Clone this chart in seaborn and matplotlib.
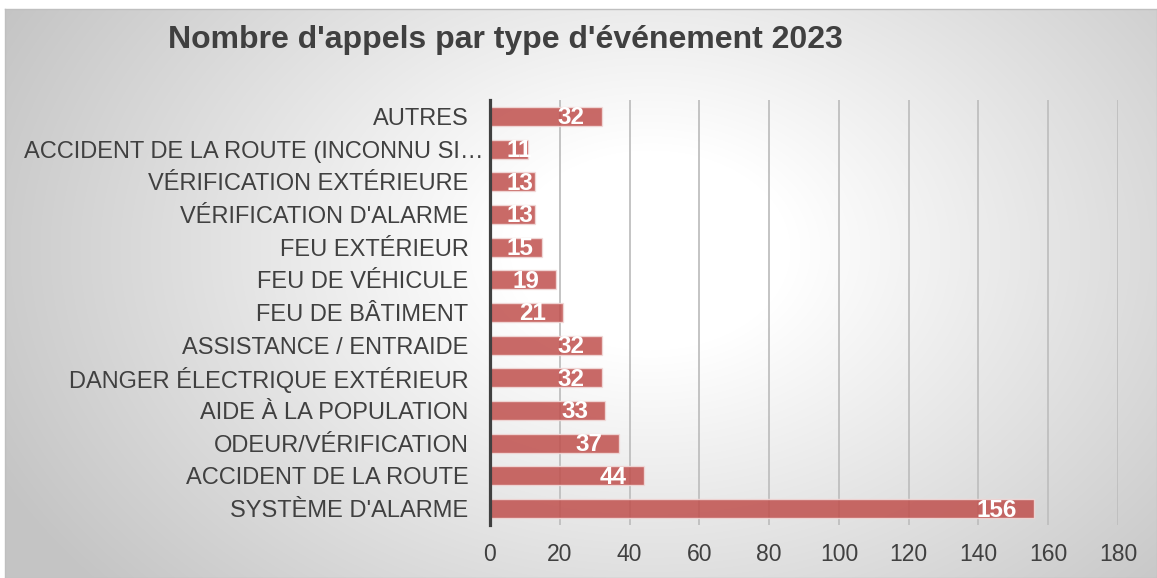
import numpy as np
import pandas as pd
import matplotlib
matplotlib.use("Agg")
import matplotlib.pyplot as plt
import matplotlib.transforms as mtransforms
import seaborn as sns

categories = [
    "AUTRES",
    "ACCIDENT DE LA ROUTE (INCONNU SI…",
    "VÉRIFICATION EXTÉRIEURE",
    "VÉRIFICATION D'ALARME",
    "FEU EXTÉRIEUR",
    "FEU DE VÉHICULE",
    "FEU DE BÂTIMENT",
    "ASSISTANCE / ENTRAIDE",
    "DANGER ÉLECTRIQUE EXTÉRIEUR",
    "AIDE À LA POPULATION",
    "ODEUR/VÉRIFICATION",
    "ACCIDENT DE LA ROUTE",
    "SYSTÈME D'ALARME",
]
values = [32, 11, 13, 13, 15, 19, 21, 32, 32, 33, 37, 44, 156]
x_ticks = [0, 20, 40, 60, 80, 100, 120, 140, 160, 180]
title = "Nombre d'appels par type d'événement 2023"

sns.set_theme(style="white")
plt.rcParams["font.family"] = ["Liberation Sans", "DejaVu Sans"]

W, H = 1157, 578
fig = plt.figure(figsize=(W / 100, H / 100), dpi=100)
fig.patch.set_facecolor("white")

# background radial gradient panel
bx0, by_top = 5, 9
bg = fig.add_axes([bx0 / W, 0, 1 - bx0 / W, (H - by_top) / H], zorder=-5)
xs = np.arange(bx0, W)
ys = np.arange(by_top, H)
XX, YY = np.meshgrid(xs, ys)
cx, cy = 650, 250
d = np.sqrt(((XX - cx) / 1.4) ** 2 + (YY - cy) ** 2)
lvl = 255 - 0.14 * np.clip(d - 100, 0, None)
lvl = np.clip(lvl, 196, 255) / 255.0
img = np.dstack([lvl, lvl, lvl])
bg.imshow(img, aspect="auto", interpolation="bilinear")
bg.set_xticks([])
bg.set_yticks([])
for s in bg.spines.values():
    s.set_color("#BFBFBF")
    s.set_linewidth(1.0)

# main axes
L, R, T, B = 490, 1118, 100, 525
ax = fig.add_axes([L / W, (H - B) / H, (R - L) / W, (B - T) / H])
ax.set_facecolor("none")

df = pd.DataFrame({"cat": categories, "val": values})
sns.barplot(data=df, x="val", y="cat", orient="h", ax=ax,
            color="#C0504D", alpha=0.85, width=0.58,
            edgecolor="#F2DCDB", linewidth=1.0, saturation=1, zorder=3)

ax.set_xlim(0, 180)
ax.set_ylim(len(categories) - 0.5, -0.5)
ax.set_xticks(x_ticks)
ax.set_xlabel("")
ax.set_ylabel("")
ax.grid(axis="x", color="#BFBFBF", linewidth=1.3, zorder=0)
ax.grid(axis="y", visible=False)
ax.set_axisbelow(True)
for side in ["top", "right", "bottom"]:
    ax.spines[side].set_visible(False)
ax.spines["left"].set_color("#404040")
ax.spines["left"].set_linewidth(2.3)
ax.spines["left"].set_zorder(5)
ax.tick_params(axis="y", length=0, pad=15.5, labelsize=17, labelcolor="#404040")
ax.tick_params(axis="x", length=0, pad=13, labelsize=16.5, labelcolor="#404040")

# truncated label sits a bit closer to the axis in the original
for lab in ax.get_yticklabels():
    if lab.get_text().endswith("…"):
        lab.set_transform(lab.get_transform() +
                          mtransforms.ScaledTranslation(15 / 100, 0, fig.dpi_scale_trans))

fig.text(505 / W, 1 - 40 / H, title, ha="center", va="center",
         fontsize=23, fontweight="bold", color="#404040")

# data labels: inside end, clamped near axis
fig.canvas.draw()
renderer = fig.canvas.get_renderer()
off_pt = 17 * 72 / 100.0
axis_px = ax.transData.transform((0, 0))[0]
for i, v in enumerate(values):
    t = ax.annotate(str(v), xy=(v, i), xytext=(-off_pt, -1), textcoords="offset points",
                    ha="right", va="center", fontsize=17.5, fontweight="bold",
                    color="white", zorder=6)
    bb = t.get_window_extent(renderer)
    if bb.x0 < axis_px + 17:
        t.remove()
        ax.annotate(str(v), xy=(0, i), xytext=(off_pt, -1), textcoords="offset points",
                    ha="left", va="center", fontsize=17.5, fontweight="bold",
                    color="white", zorder=6)

fig.savefig("out.png", dpi=100)
